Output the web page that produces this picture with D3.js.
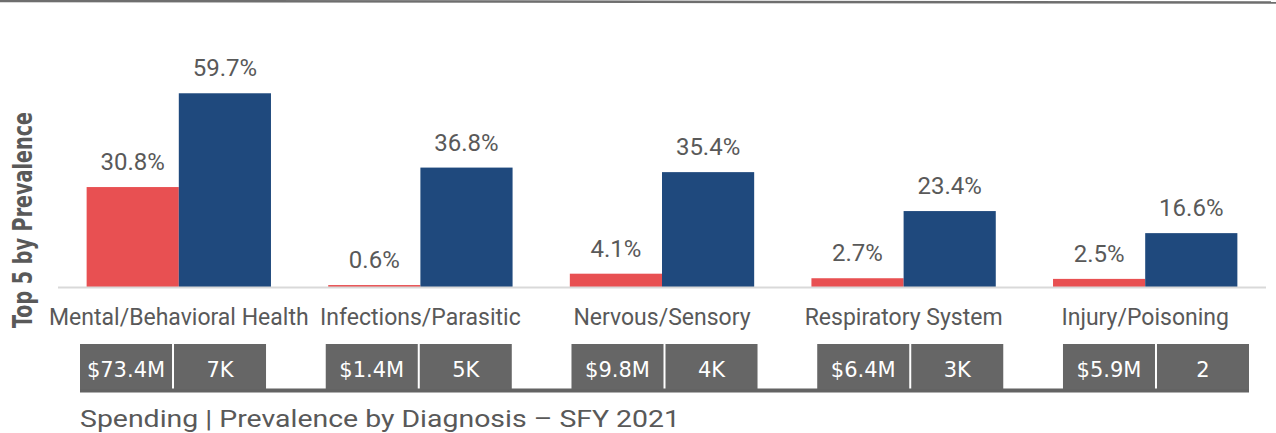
<!DOCTYPE html>
<html>
<head>
<meta charset="utf-8">
<script src="https://cdn.jsdelivr.net/npm/d3@7"></script>
<style>
  html, body { margin: 0; padding: 0; background: #ffffff; }
  svg { display: block; }
</style>
</head>
<body>
<svg id="chart" width="1276" height="433"></svg>
<script>
// Top five diagnosis groups ranked by prevalence, SFY 2021
const categories = [
  "Mental/Behavioral Health",
  "Infections/Parasitic",
  "Nervous/Sensory",
  "Respiratory System",
  "Injury/Poisoning"
];
// Share of spending (%) per diagnosis group
const spendingShare = [30.8, 0.6, 4.1, 2.7, 2.5];
// Share of prevalence (%) per diagnosis group
const prevalenceShare = [59.7, 36.8, 35.4, 23.4, 16.6];
// Table cells under the chart
const spendingLabels = ["$73.4M", "$1.4M", "$9.8M", "$6.4M", "$5.9M"];
const prevalenceLabels = ["7K", "5K", "4K", "3K", "2"];
const seriesKeys = ["spending", "prevalence"];
const axisMax = 60;

const W = 1276, H = 433;
const svg = d3.select("#chart");

const colors = { spending: "#E85052", prevalence: "#1F497D" };
const labelColor = "#595959";

// Thin rule across the top edge
svg.append("line")
  .attr("x1", 0).attr("y1", 1)
  .attr("x2", W).attr("y2", 2.5)
  .attr("stroke", "#6e6e6e")
  .attr("stroke-width", 2.5);

// Scales
const x0 = d3.scaleBand()
  .domain(categories)
  .range([58, 1266])
  .paddingInner(0.237)
  .paddingOuter(0.1185);

const x1 = d3.scaleBand()
  .domain(seriesKeys)
  .range([0, x0.bandwidth()])
  .padding(0);

const y = d3.scaleLinear()
  .domain([0, axisMax])
  .range([287, 287 - axisMax * 3.245]);

const rows = categories.map((c, i) => ({
  category: c,
  values: [
    { key: "spending", value: spendingShare[i] },
    { key: "prevalence", value: prevalenceShare[i] }
  ]
}));

// Bars
const groups = svg.append("g").selectAll("g")
  .data(rows)
  .join("g")
  .attr("transform", d => `translate(${x0(d.category)},0)`);

groups.selectAll("rect")
  .data(d => d.values)
  .join("rect")
  .attr("x", d => x1(d.key))
  .attr("y", d => y(d.value))
  .attr("width", x1.bandwidth())
  .attr("height", d => y(0) - y(d.value))
  .attr("fill", d => colors[d.key]);

// Value labels
groups.selectAll("text.val")
  .data(d => d.values)
  .join("text")
  .attr("class", "val")
  .attr("x", d => x1(d.key) + x1.bandwidth() / 2)
  .attr("y", d => y(d.value) - 17)
  .attr("text-anchor", "middle")
  .attr("font-family", "Roboto, 'Liberation Sans', sans-serif")
  .attr("font-size", 24)
  .attr("fill", labelColor)
  .text(d => d.value.toFixed(1) + "%");

// Category axis
const xAxis = d3.axisBottom(x0).tickSize(0).tickPadding(0);
const axisG = svg.append("g")
  .attr("transform", `translate(0,${y(0)})`)
  .call(xAxis);
axisG.select(".domain")
  .attr("stroke", "#d9d9d9")
  .attr("stroke-width", 2)
  .attr("d", `M58,0.5H1266`);
axisG.selectAll(".tick text")
  .attr("dy", 0)
  .attr("y", 38)
  .attr("font-family", "Roboto, 'Liberation Sans', sans-serif")
  .attr("font-size", 23)
  .attr("fill", labelColor);

// Rotated side title
svg.append("text")
  .attr("transform", "translate(32,220) rotate(-90)")
  .attr("text-anchor", "middle")
  .attr("font-family", "'Liberation Sans Narrow', 'DejaVu Sans Condensed', Roboto, sans-serif")
  .attr("font-weight", "bold")
  .attr("font-size", 26)
  .attr("fill", labelColor)
  .attr("textLength", 216)
  .attr("lengthAdjust", "spacingAndGlyphs")
  .text("Top 5 by Prevalence");

// Spending | prevalence table
const tx = d3.scaleBand()
  .domain(categories)
  .range([80, 1249])
  .paddingInner(0.243)
  .paddingOuter(0);

const cellGap = 2;
const cellW = (tx.bandwidth() - cellGap) / 2;
const cellTop = 344, cellBottom = 389;

svg.append("rect")
  .attr("x", 80).attr("y", cellBottom - 0.5)
  .attr("width", 1249 - 80).attr("height", 4)
  .attr("fill", "#636363");

const cells = [];
categories.forEach((c, i) => {
  cells.push({ category: c, slot: 0, text: spendingLabels[i] });
  cells.push({ category: c, slot: 1, text: prevalenceLabels[i] });
});

const cellG = svg.append("g").selectAll("g")
  .data(cells)
  .join("g")
  .attr("transform", d => `translate(${tx(d.category) + d.slot * (cellW + cellGap)},${cellTop})`);

cellG.append("rect")
  .attr("width", cellW)
  .attr("height", cellBottom - cellTop)
  .attr("fill", "#666666");

cellG.append("text")
  .attr("x", cellW / 2)
  .attr("y", 32.5)
  .attr("text-anchor", "middle")
  .attr("font-family", "'DejaVu Sans', sans-serif")
  .attr("font-size", 21)
  .attr("fill", "#ffffff")
  .text(d => d.text);

// Caption
svg.append("text")
  .attr("x", 80)
  .attr("y", 426.5)
  .attr("font-family", "Roboto, 'Liberation Sans', sans-serif")
  .attr("font-size", 24.5)
  .attr("fill", labelColor)
  .attr("textLength", 600)
  .attr("lengthAdjust", "spacingAndGlyphs")
  .text("Spending | Prevalence by Diagnosis – SFY 2021");
</script>
</body>
</html>
